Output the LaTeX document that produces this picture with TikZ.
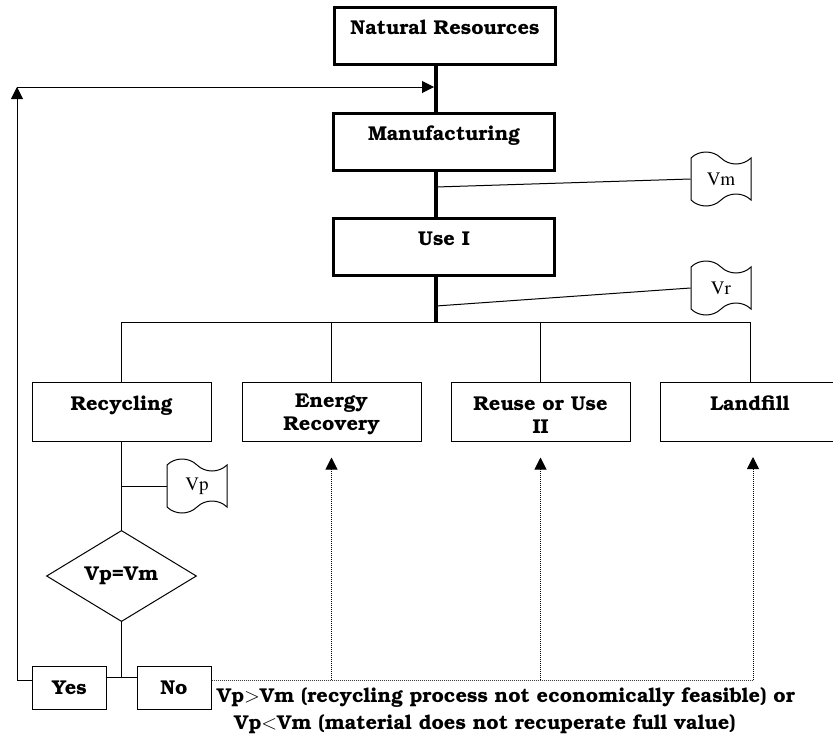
\documentclass[tikz,border=0pt]{standalone}
\usepackage[T1]{fontenc}
\usepackage{bookman}
\usetikzlibrary{arrows.meta,shapes.geometric,shapes.symbols}

\newcommand{\toprow}{\rule{0pt}{20pt}}

\begin{document}
\begin{tikzpicture}[x=1pt, y=-1pt, >={Triangle[length=12pt,width=12pt]},
    every node/.style={font=\fontsize{20}{23}\selectfont\bfseries, line width=1pt},
    stage/.style={draw, minimum width=179pt, minimum height=59pt, align=center, inner sep=0pt},
    mainstage/.style={stage, line width=3pt, minimum width=221pt, minimum height=57pt},
    answer/.style={draw, minimum width=74pt, minimum height=43pt, inner sep=0pt},
    decision/.style={draw, diamond, minimum width=150pt, minimum height=90pt, inner sep=0pt},
    flagnote/.style={draw, tape, tape bend top=out and in, tape bend bottom=in and out,
        tape bend height=12pt, minimum width=60pt, minimum height=54pt, inner sep=0pt,
        font=\fontfamily{ptm}\mdseries\fontsize{19}{21}\selectfont},
    trunk/.style={line width=4pt},
    link/.style={line width=1pt},
    cheap/.style={line width=1pt, densely dotted, black!75}]
    \useasboundingbox (0,0) rectangle (833,742);

    % main chain
    \node[mainstage] (nr) at (445,35.5) {\toprow Natural Resources\\\mbox{}};
    \node[mainstage] (mfg) at (444,141.5) {\toprow Manufacturing\\\mbox{}};
    \node[mainstage] (use) at (444,246.5) {\toprow Use I\\\mbox{}};
    \coordinate (hub) at (436,322);

    % end of life options
    \node[stage] (rec) at (121.5,411.5) {\toprow Recycling\\\mbox{}};
    \node[stage] (en) at (331.5,411.5) {\toprow Energy\\Recovery};
    \node[stage] (re) at (540.5,411.5) {\toprow Reuse or Use\\II};
    \node[stage] (lf) at (750,411.5) {\toprow Landfill\\\mbox{}};

    % values
    \node[flagnote] (vm) at (721,179) {Vm};
    \node[flagnote] (vr) at (721,288) {Vr};
    \node[flagnote] (vp) at (197,486) {Vp};
    \coordinate (jm) at (436,187);
    \coordinate (jr) at (436,306);
    \coordinate (jp) at (121.5,486);

    % decision
    \node[decision] (cmp) at (121.5,576) {Vp=Vm};
    \node[answer] (yes) at (69.5,687.5) {Yes};
    \node[answer] (no) at (174,687.5) {No};
    \coordinate (row) at (0,680);
    \coordinate (ret) at (17,87);

    \node[align=center, font=\fontsize{20}{27}\selectfont\bfseries] (why) at (506,711)
        {Vp$>$Vm (recycling process not economically feasible) or\\
        Vp$<$Vm (material does not recuperate full value)\hspace*{42pt}};

    \draw[link] (jm) -- (vm.west);
    \draw[link] (jr) -- (vr.west);
    \draw[link] (rec.north) |- (lf.north |- hub) -- (lf.north);
    \draw[link] (en.north) -- (en.north |- hub);
    \draw[link] (re.north) -- (re.north |- hub);
    \draw[link] (rec.south) -- (cmp.north);
    \draw[link] (jp) -- (vp.west);
    \draw[link] (cmp.south) -- (cmp.south |- 0,677);
    \draw[link] (yes.east |- 0,677) -- (no.west |- 0,677);

    % loop back to manufacturing
    \draw[link, ->] (yes.west |- row) -| (ret);
    \draw[link, ->] (ret) -- ([xshift=-2pt]ret -| hub);

    % other routes
    \draw[cheap] (no.east |- row) -- (753,680);
    \draw[cheap, ->, black] (en.south |- row) -- ([yshift=-16pt]en.south);
    \draw[cheap, ->, black] (re.south |- row) -- ([yshift=-16pt]re.south);
    \draw[cheap, ->, black] (753,680) -- ([yshift=-16pt]753,441);

    \draw[trunk] (nr.south -| hub) -- (mfg.north -| hub);
    \draw[trunk] (mfg.south -| hub) -- (use.north -| hub);
    \draw[trunk] (use.south -| hub) -- (hub);
\end{tikzpicture}
\end{document}
